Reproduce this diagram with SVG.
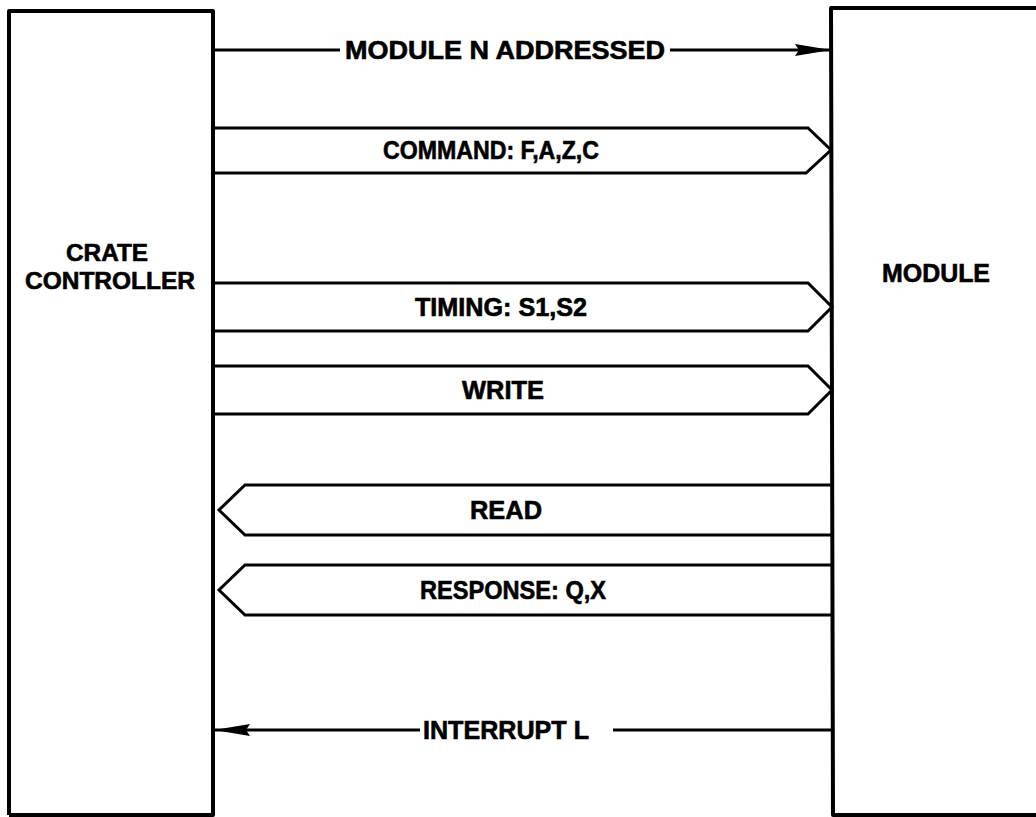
<svg xmlns="http://www.w3.org/2000/svg" width="1036" height="817" viewBox="0 0 1036 817">
<defs>
<style>
.box{fill:none;stroke:#000;stroke-width:4;stroke-linejoin:round}
.ln{fill:none;stroke:#000;stroke-width:3;stroke-linejoin:miter}
.t{font-family:"Liberation Sans",Arial,sans-serif;font-weight:bold;font-size:25px;fill:#000;stroke:#000;stroke-width:0.6}
.s{font-size:24px}
</style>
<marker id="ah" viewBox="0 0 36 14" refX="36" refY="7" markerWidth="36" markerHeight="14" markerUnits="userSpaceOnUse" orient="auto">
<path d="M0,1 L36,7 L0,13 L4,7 Z" fill="#000"/>
</marker>
</defs>
<rect width="1036" height="817" fill="#fff"/>
<g id="crate-controller">
<path class="box" d="M9,815 L9,11 L213,11 L213,815 L9,815"/>
<text class="t s" x="107" y="261" text-anchor="middle" textLength="82" lengthAdjust="spacingAndGlyphs">CRATE</text>
<text class="t s" x="110" y="289" text-anchor="middle" textLength="170" lengthAdjust="spacingAndGlyphs">CONTROLLER</text>
</g>
<g id="module">
<path class="box" d="M1040,8 L831,8 L833,815 L1040,815"/>
<text class="t" x="936" y="282" text-anchor="middle" textLength="108" lengthAdjust="spacingAndGlyphs">MODULE</text>
</g>
<g id="connectors">
<g id="module-n-addressed">
<line class="ln" x1="213" y1="50" x2="340" y2="50"/>
<line class="ln" x1="670" y1="50" x2="831" y2="50" marker-end="url(#ah)"/>
<text class="t" x="505" y="59" text-anchor="middle" textLength="320" lengthAdjust="spacingAndGlyphs">MODULE N ADDRESSED</text>
</g>
<g id="command">
<path class="ln" d="M213,128 L808,128 L831,150 L806,173 L213,173"/>
<text class="t" x="491" y="159" text-anchor="middle" textLength="216" lengthAdjust="spacingAndGlyphs">COMMAND: F,A,Z,C</text>
</g>
<g id="timing">
<path class="ln" d="M213,283 L808,283 L832,307 L808,331 L213,331"/>
<text class="t" x="501" y="316" text-anchor="middle" textLength="172" lengthAdjust="spacingAndGlyphs">TIMING: S1,S2</text>
</g>
<g id="write">
<path class="ln" d="M213,366 L808,366 L832,390 L808,414 L213,414"/>
<text class="t" x="503" y="399" text-anchor="middle" textLength="82" lengthAdjust="spacingAndGlyphs">WRITE</text>
</g>
<g id="read">
<path class="ln" d="M833,485 L245,485 L219,510 L245,535 L833,535"/>
<text class="t" x="506" y="519" text-anchor="middle" textLength="72" lengthAdjust="spacingAndGlyphs">READ</text>
</g>
<g id="response">
<path class="ln" d="M833,565 L245,565 L219,590 L245,615 L833,615"/>
<text class="t" x="513" y="599" text-anchor="middle" textLength="186" lengthAdjust="spacingAndGlyphs">RESPONSE: Q,X</text>
</g>
<g id="interrupt">
<line class="ln" x1="420" y1="730" x2="214" y2="730" marker-end="url(#ah)"/>
<line class="ln" x1="613" y1="730" x2="833" y2="730"/>
<text class="t" x="506" y="739" text-anchor="middle" textLength="166" lengthAdjust="spacingAndGlyphs">INTERRUPT L</text>
</g>
</g>
</svg>
